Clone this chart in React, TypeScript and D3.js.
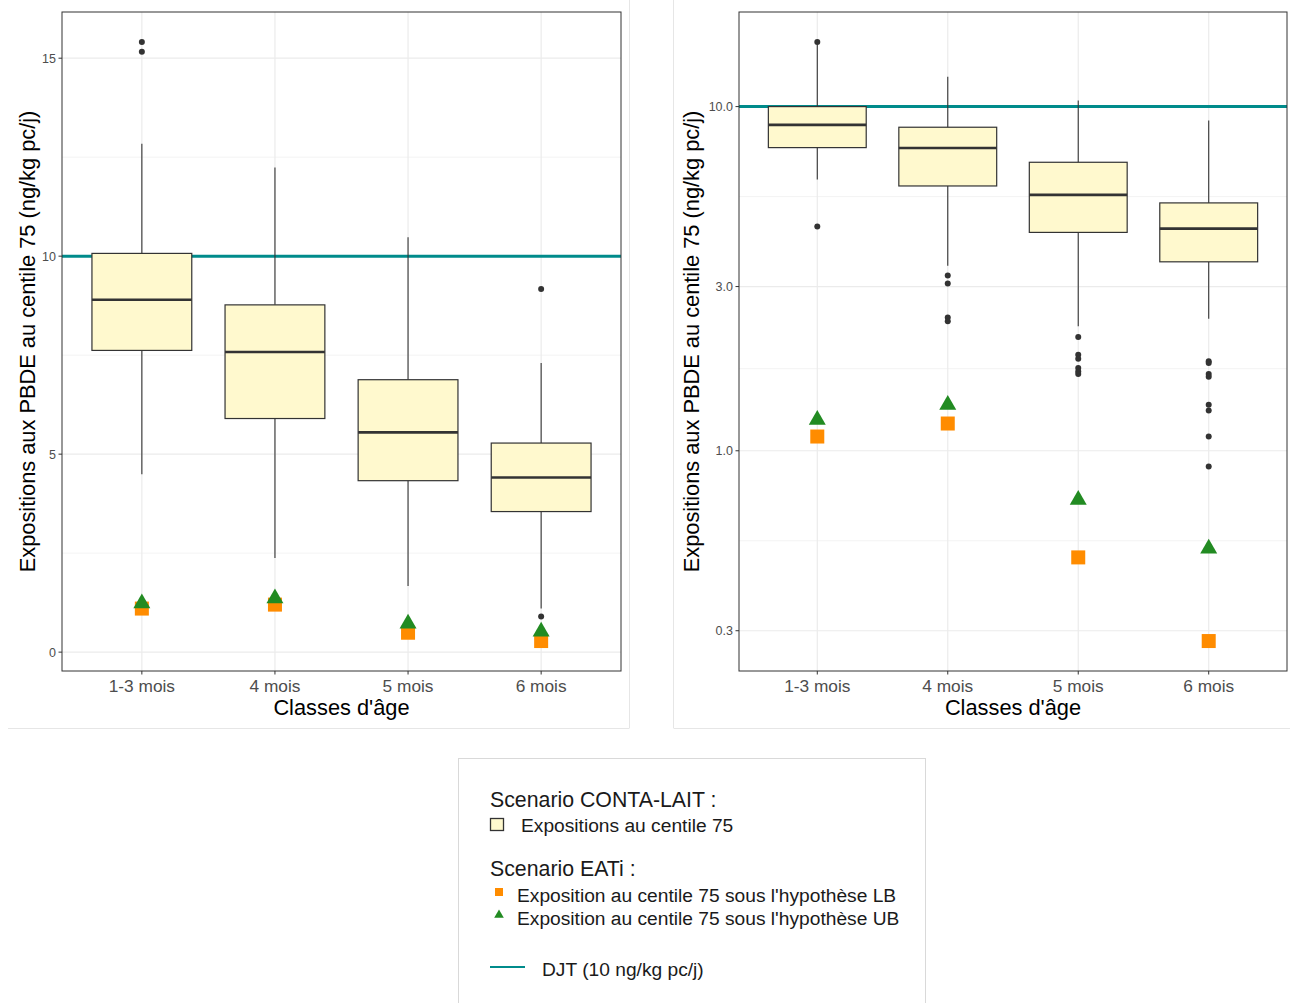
import * as d3 from "d3";

// categories
const ageClasses = ["1-3 mois", "4 mois", "5 mois", "6 mois"];

// CONTA-LAIT boxplot stats, linear panel (left)
const linWhiskerLow = [4.49, 2.38, 1.67, 1.1];
const linQ1 = [7.62, 5.9, 4.33, 3.55];
const linMedian = [8.9, 7.58, 5.55, 4.41];
const linQ3 = [10.07, 8.77, 6.88, 5.28];
const linWhiskerHigh = [12.84, 12.24, 10.48, 7.3];
const linOutliers = [[15.41, 15.16], [], [], [9.17, 0.9]];

// CONTA-LAIT boxplot stats, log panel (right), computed on log scale
const logWhiskerLow = [6.14, 3.45, 2.3, 2.42];
const logQ1 = [7.6, 5.88, 4.31, 3.54];
const logMedian = [8.85, 7.58, 5.54, 4.42];
const logQ3 = [10.0, 8.71, 6.89, 5.25];
const logWhiskerHigh = [15.16, 12.21, 10.41, 9.11];
const logOutliers = [
  [15.41, 4.48],
  [3.23, 3.06, 2.44, 2.38],
  [2.14, 1.9, 1.85, 1.74, 1.7, 1.67],
  [1.82, 1.8, 1.67, 1.64, 1.36, 1.31, 1.1, 0.9],
];

// EATi scenario
const eatiLB = [1.1, 1.2, 0.49, 0.28];
const eatiUB = [1.23, 1.36, 0.72, 0.52];

const djt = 10;

const linTicks = [0, 5, 10, 15];
const logTicks = [0.3, 1, 3, 10];

const boxFill = "#FFF9CE";
const dark = "#333333";
const teal = "#008B8B";
const orange = "#FF8C00";
const green = "#228B22";
const font = "Liberation Sans, Arial, sans-serif";

type PanelProps = {
  x0: number;
  x1: number;
  y0: number;
  y1: number;
  log: boolean;
  lo: number[];
  q1: number[];
  med: number[];
  q3: number[];
  hi: number[];
  out: number[][];
  ticks: number[];
  fmt: (v: number) => string;
  titleX: number;
};

function Panel(p: PanelProps) {
  const all = [...p.lo, ...p.hi, ...p.out.flat(), ...eatiLB, ...eatiUB];
  let y: d3.ScaleContinuousNumeric<number, number>;
  let minor: number[];
  if (p.log) {
    const [a, b] = d3.extent(all.map(Math.log10)) as [number, number];
    const pad = (b - a) * 0.05;
    y = d3.scaleLog().domain([10 ** (a - pad), 10 ** (b + pad)]).range([p.y1, p.y0]);
    minor = d3.pairs(p.ticks).map(([u, v]) => Math.sqrt(u * v));
  } else {
    const [a, b] = d3.extent(all) as [number, number];
    const pad = (b - a) * 0.05;
    y = d3.scaleLinear().domain([a - pad, b + pad]).range([p.y1, p.y0]);
    minor = d3.pairs(p.ticks).map(([u, v]) => (u + v) / 2);
  }
  const x = d3.scalePoint<string>().domain(ageClasses).range([p.x0, p.x1]).padding(0.6);
  const bw = x.step() * 0.75;
  const tri = d3.symbol().type(d3.symbolTriangle).size(125)();

  return (
    <g fontFamily={font}>
      {minor.map((t) => (
        <line key={"m" + t} x1={p.x0} x2={p.x1} y1={y(t)} y2={y(t)} stroke="#ebebeb" strokeWidth={0.6} />
      ))}
      {p.ticks.map((t) => (
        <line key={"g" + t} x1={p.x0} x2={p.x1} y1={y(t)} y2={y(t)} stroke="#ebebeb" strokeWidth={1.2} />
      ))}
      {ageClasses.map((c) => (
        <line key={"v" + c} x1={x(c)} x2={x(c)} y1={p.y0} y2={p.y1} stroke="#ebebeb" strokeWidth={1.2} />
      ))}
      <line x1={p.x0} x2={p.x1} y1={y(djt)} y2={y(djt)} stroke={teal} strokeWidth={3} />
      {ageClasses.map((c, i) => {
        const cx = x(c)!;
        return (
          <g key={"b" + c}>
            <line x1={cx} x2={cx} y1={y(p.hi[i])} y2={y(p.q3[i])} stroke={dark} strokeWidth={1.1} />
            <line x1={cx} x2={cx} y1={y(p.q1[i])} y2={y(p.lo[i])} stroke={dark} strokeWidth={1.1} />
            <rect
              x={cx - bw / 2}
              y={y(p.q3[i])}
              width={bw}
              height={y(p.q1[i]) - y(p.q3[i])}
              fill={boxFill}
              stroke={dark}
              strokeWidth={1.2}
            />
            <line x1={cx - bw / 2} x2={cx + bw / 2} y1={y(p.med[i])} y2={y(p.med[i])} stroke={dark} strokeWidth={2.6} />
            {p.out[i].map((v, k) => (
              <circle key={k} cx={cx} cy={y(v)} r={3} fill={dark} />
            ))}
          </g>
        );
      })}
      {ageClasses.map((c, i) => (
        <rect key={"lb" + c} x={x(c)! - 7} y={y(eatiLB[i]) - 7} width={14} height={14} fill={orange} />
      ))}
      {ageClasses.map((c, i) => (
        <path key={"ub" + c} d={tri!} transform={`translate(${x(c)},${y(eatiUB[i])})`} fill={green} />
      ))}
      <rect x={p.x0} y={p.y0} width={p.x1 - p.x0} height={p.y1 - p.y0} fill="none" stroke={dark} strokeWidth={1} />
      {p.ticks.map((t) => (
        <g key={"t" + t}>
          <line x1={p.x0 - 3.5} x2={p.x0} y1={y(t)} y2={y(t)} stroke={dark} strokeWidth={1} />
          <text x={p.x0 - 6} y={y(t)} dy="0.35em" textAnchor="end" fontSize={12.5} fill="#4d4d4d">
            {p.fmt(t)}
          </text>
        </g>
      ))}
      {ageClasses.map((c) => (
        <g key={"xt" + c}>
          <line x1={x(c)} x2={x(c)} y1={p.y1} y2={p.y1 + 3.5} stroke={dark} strokeWidth={1} />
          <text x={x(c)} y={p.y1 + 21} textAnchor="middle" fontSize={17.3} fill="#4d4d4d">
            {c}
          </text>
        </g>
      ))}
      <text x={(p.x0 + p.x1) / 2} y={p.y1 + 44} textAnchor="middle" fontSize={21.8} fill="#000">
        Classes d'âge
      </text>
      <text
        transform={`translate(${p.titleX},${(p.y0 + p.y1) / 2}) rotate(-90)`}
        textAnchor="middle"
        fontSize={21.8}
        fill="#000"
      >
        Expositions aux PBDE au centile 75 (ng/kg pc/j)
      </text>
    </g>
  );
}

function Legend() {
  const tri = d3.symbol().type(d3.symbolTriangle).size(40)();
  return (
    <g fontFamily={font} fill="#1a1a1a">
      <rect x={458.5} y={758.5} width={467} height={260} fill="#fff" stroke="#d9d9d9" strokeWidth={1} />
      <text x={490} y={807} fontSize={21.3}>Scenario CONTA-LAIT :</text>
      <rect x={490.5} y={818.5} width={13} height={12} fill={boxFill} stroke={dark} strokeWidth={1.3} />
      <text x={521} y={832} fontSize={19.2}>Expositions au centile 75</text>
      <text x={490} y={876} fontSize={21.3}>Scenario EATi :</text>
      <rect x={495} y={888} width={8} height={8} fill={orange} />
      <text x={517} y={902} fontSize={19.2}>Exposition au centile 75 sous l'hypothèse LB</text>
      <path d={tri!} transform="translate(499,915)" fill={green} />
      <text x={517} y={925} fontSize={19.2}>Exposition au centile 75 sous l'hypothèse UB</text>
      <line x1={490} x2={525} y1={967} y2={967} stroke={teal} strokeWidth={2} />
      <text x={542} y={976} fontSize={19.2}>DJT (10 ng/kg pc/j)</text>
    </g>
  );
}

export default function App() {
  return (
    <svg width={1290} height={1003} style={{ position: "absolute", left: 0, top: 0, background: "#fff" }}>
      <rect width={1290} height={1003} fill="#fff" />
      <line x1={629.5} x2={629.5} y1={0} y2={728} stroke="#e6e6e6" />
      <line x1={8} x2={629.5} y1={728.5} y2={728.5} stroke="#e6e6e6" />
      <line x1={673.5} x2={673.5} y1={0} y2={728} stroke="#e6e6e6" />
      <line x1={673.5} x2={1290} y1={728.5} y2={728.5} stroke="#e6e6e6" />
      <Panel
        x0={62}
        x1={621}
        y0={12}
        y1={671}
        log={false}
        lo={linWhiskerLow}
        q1={linQ1}
        med={linMedian}
        q3={linQ3}
        hi={linWhiskerHigh}
        out={linOutliers}
        ticks={linTicks}
        fmt={(v) => String(v)}
        titleX={35}
      />
      <Panel
        x0={739}
        x1={1287}
        y0={12}
        y1={671}
        log={true}
        lo={logWhiskerLow}
        q1={logQ1}
        med={logMedian}
        q3={logQ3}
        hi={logWhiskerHigh}
        out={logOutliers}
        ticks={logTicks}
        fmt={d3.format(".1f")}
        titleX={699}
      />
      <Legend />
    </svg>
  );
}
